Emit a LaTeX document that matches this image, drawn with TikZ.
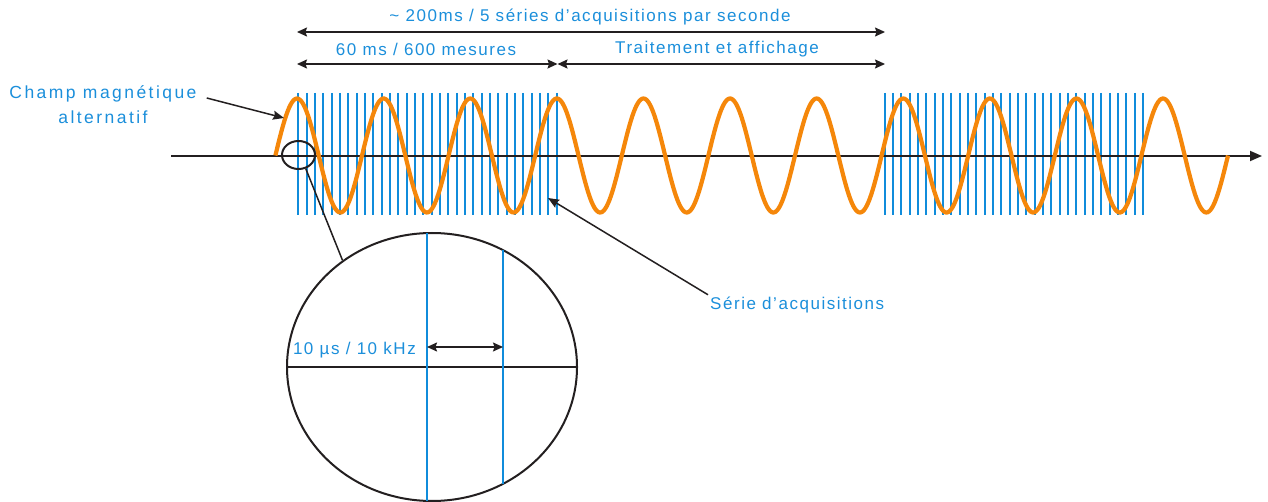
\documentclass[tikz,border=0pt]{standalone}
\usepackage{fontspec}
\setmainfont{Liberation Sans}
\newfontfamily\labfont{Liberation Sans}[LetterSpace=9]
\newfontfamily\widefont{Liberation Sans}[LetterSpace=14]
\usetikzlibrary{shapes.geometric,arrows.meta}
\definecolor{lblue}{HTML}{1B8FDB}
\definecolor{acqblue}{HTML}{108CDB}
\definecolor{worange}{HTML}{F5870A}
\definecolor{ink}{HTML}{231F20}
\begin{document}
\begin{tikzpicture}[x=1pt,y=-1pt,
  lab/.style={text=lblue, font=\labfont\fontsize{17}{20}\selectfont, inner sep=2pt},
  widelab/.style={text=lblue, font=\widefont\fontsize{17.5}{20}\selectfont, inner sep=2pt},
  dim/.style={ink, line width=1.5pt, {Stealth[length=10pt,width=9pt,inset=1.5pt]}-{Stealth[length=10pt,width=9pt,inset=1.5pt]}},
  ptr/.style={ink, line width=1.5pt, -{Stealth[length=11pt,width=9pt,inset=1.5pt]}},
  acq/.style={acqblue, line width=2pt},
  wave/.style={worange, line width=4.2pt},
  axisline/.style={ink, line width=1.8pt, -{Triangle[length=12pt,width=10pt]}},
  ring/.style={ellipse, draw=ink, line width=2pt, inner sep=0pt}]

\useasboundingbox[fill=white] (0,0) rectangle (1268,502);

% acquisition series
\foreach \i in {0,...,31} {\draw[acq] ({298.3+8.333*\i},93) -- ({298.3+8.333*\i},215);}
\foreach \i in {0,...,31} {\draw[acq] ({884.7+8.333*\i},93) -- ({884.7+8.333*\i},215);}

% axis
\coordinate (axL) at (171,156);
\coordinate (axR) at (1262,156);
\draw[axisline] (axL) -- (axR);

% alternating field
\draw[wave, domain=275.4:1228, samples=700, smooth] plot (\x, {155.5-57*sin(4.157044*(\x-275.4))});

% top dimension arrows
\coordinate (t1L) at (297,32);
\coordinate (t1R) at (885,32);
\draw[dim] (t1L) -- (t1R);
\node[lab] (ttop) at (590,17) {\textasciitilde{} 200ms / 5 séries d’acquisitions par seconde};

\coordinate (t2L) at (297,64);
\coordinate (t2M) at (557.5,64);
\coordinate (t2R) at (885,64);
\draw[dim] (t2L) -- (t2M);
\draw[dim] (t2M) -- (t2R);
\node[lab] (mes) at (426,49) {60 ms / 600 mesures};
\node[lab] (trait) at (717,49) {Traitement et affichage};

% left label
\node[widelab] (champ) at (103,94) {Champ magnétique};
\node[widelab] (alt) at (103,117) {alternatif};
\coordinate (champTip) at (284,118);
\draw[ptr] ([xshift=8pt,yshift=-4pt]champ.east) -- (champTip);

% magnifier
\node[ring, minimum width=33pt, minimum height=28pt] (lens) at (298.5,155) {};
\node[ring, minimum width=290pt, minimum height=268pt] (zoom) at (432,367) {};
\draw[ink, line width=1.5pt] (lens.-62) -- (zoom.130);
\draw[ink, line width=1.6pt] (zoom.west) -- (zoom.east);
\draw[acq] (427,233.1) -- (427,500.9);
\draw[acq] (503,250.2) -- (503,483.8);
\coordinate (zA) at (427,347);
\coordinate (zB) at (503,347);
\draw[dim] (zA) -- (zB);
\node[lab, anchor=east] (per) at (418,350) {10 µs / 10 kHz};

% series label
\node[lab, anchor=west] (serie) at (708,305) {Série d’acquisitions};
\coordinate (serieTip) at (548,198);
\draw[ptr] (serie.north west) -- (serieTip);
\end{tikzpicture}
\end{document}
